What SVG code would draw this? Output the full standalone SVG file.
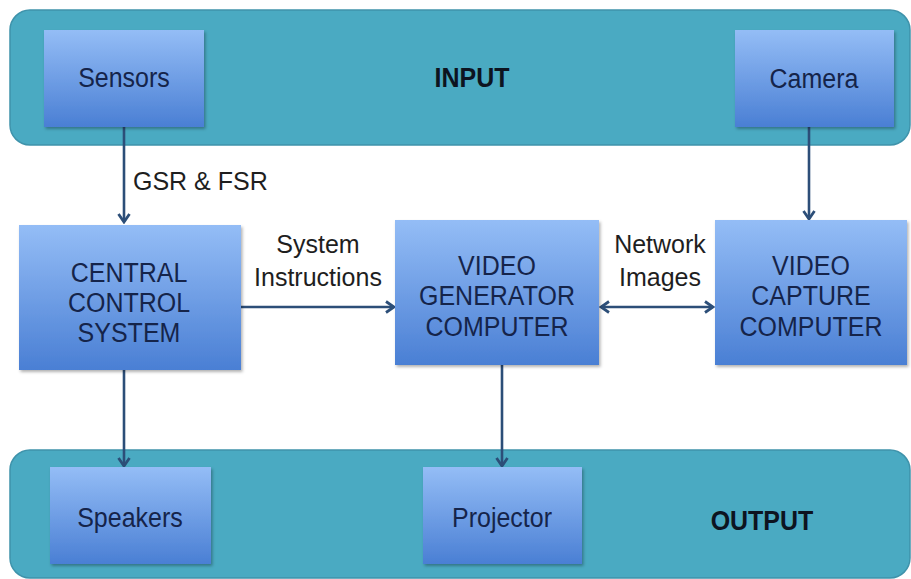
<svg xmlns="http://www.w3.org/2000/svg" width="911" height="579" viewBox="0 0 911 579">
<style>
.band{fill:#4aaac2;stroke:#3f93ab;stroke-width:1.5}
.box{fill:url(#bg);filter:url(#sh)}
.t{font-family:"Liberation Sans",Arial,sans-serif;font-size:25px;fill:#15244a;text-anchor:middle}
.b{font-family:"Liberation Sans",Arial,sans-serif;font-size:25px;font-weight:bold;fill:#0d1420;text-anchor:middle}
.l{font-family:"Liberation Sans",Arial,sans-serif;font-size:25px;fill:#1e1e1e;text-anchor:middle}
.c{stroke:#2c4e78;stroke-width:2.6;fill:none}
</style>
<defs>
<linearGradient id="bg" x1="0" y1="0" x2="0" y2="1">
<stop offset="0" stop-color="#94bdf6"/>
<stop offset="1" stop-color="#4a7fd4"/>
</linearGradient>
<filter id="sh" x="-10%" y="-10%" width="125%" height="125%">
<feDropShadow dx="1.5" dy="2" stdDeviation="1.5" flood-color="#000" flood-opacity="0.3"/>
</filter>
<marker id="ah" viewBox="0 0 14 14" refX="12" refY="7" markerWidth="14" markerHeight="14" markerUnits="userSpaceOnUse" orient="auto-start-reverse">
<path d="M4,1.5 L12,7 L4,12.5" fill="none" stroke="#2c4e78" stroke-width="2.8" stroke-linejoin="miter"/>
</marker>
</defs>
<rect width="911" height="579" fill="#fff"/>
<g id="input-band">
<rect class="band" x="10" y="10" width="900" height="135" rx="20"/>
<text class="b" x="472" y="87" transform="translate(472,87) scale(1,1.12) translate(-472,-87)">INPUT</text>
</g>
<g id="output-band">
<rect class="band" x="10" y="450" width="900" height="128" rx="20"/>
<text class="b" x="762" y="530" transform="translate(762,530) scale(1,1.12) translate(-762,-530)">OUTPUT</text>
</g>
<g id="connectors">
<line class="c" x1="124" y1="127" x2="124" y2="222" marker-end="url(#ah)"/>
<line class="c" x1="809" y1="127" x2="809" y2="219" marker-end="url(#ah)"/>
<line class="c" x1="241" y1="307" x2="394" y2="307" marker-end="url(#ah)"/>
<line class="c" x1="601" y1="307" x2="713" y2="307" marker-start="url(#ah)" marker-end="url(#ah)"/>
<line class="c" x1="124" y1="370" x2="124" y2="466" marker-end="url(#ah)"/>
<line class="c" x1="502" y1="365" x2="502" y2="466" marker-end="url(#ah)"/>
<text class="l" x="133" y="190" style="text-anchor:start">GSR &amp; FSR</text>
<text class="l" x="318" y="253">System</text>
<text class="l" x="318" y="286">Instructions</text>
<text class="l" x="660" y="253">Network</text>
<text class="l" x="660" y="286">Images</text>
</g>
<g id="sensors">
<rect class="box" x="44" y="30" width="160" height="97"/>
<text class="t" x="124" y="87" transform="translate(124,87) scale(1,1.12) translate(-124,-87)">Sensors</text>
</g>
<g id="camera">
<rect class="box" x="735" y="30" width="159" height="97"/>
<text class="t" x="814" y="88" transform="translate(814,88) scale(1,1.12) translate(-814,-88)">Camera</text>
</g>
<g id="central">
<rect class="box" x="19" y="225" width="222" height="145"/>
<text class="t" x="129" y="282" transform="translate(129,282) scale(1,1.12) translate(-129,-282)">CENTRAL</text>
<text class="t" x="129" y="312" transform="translate(129,312) scale(1,1.12) translate(-129,-312)">CONTROL</text>
<text class="t" x="129" y="342" transform="translate(129,342) scale(1,1.12) translate(-129,-342)">SYSTEM</text>
</g>
<g id="generator">
<rect class="box" x="395" y="220" width="204" height="145"/>
<text class="t" x="497" y="275" transform="translate(497,275) scale(1,1.12) translate(-497,-275)">VIDEO</text>
<text class="t" x="497" y="305" transform="translate(497,305) scale(1,1.12) translate(-497,-305)">GENERATOR</text>
<text class="t" x="497" y="336" transform="translate(497,336) scale(1,1.12) translate(-497,-336)">COMPUTER</text>
</g>
<g id="capture">
<rect class="box" x="715" y="220" width="192" height="145"/>
<text class="t" x="811" y="275" transform="translate(811,275) scale(1,1.12) translate(-811,-275)">VIDEO</text>
<text class="t" x="811" y="305" transform="translate(811,305) scale(1,1.12) translate(-811,-305)">CAPTURE</text>
<text class="t" x="811" y="336" transform="translate(811,336) scale(1,1.12) translate(-811,-336)">COMPUTER</text>
</g>
<g id="speakers">
<rect class="box" x="50" y="467" width="161" height="97"/>
<text class="t" x="130" y="527" transform="translate(130,527) scale(1,1.12) translate(-130,-527)">Speakers</text>
</g>
<g id="projector">
<rect class="box" x="423" y="467" width="159" height="97"/>
<text class="t" x="502" y="527" transform="translate(502,527) scale(1,1.12) translate(-502,-527)">Projector</text>
</g>
</svg>
